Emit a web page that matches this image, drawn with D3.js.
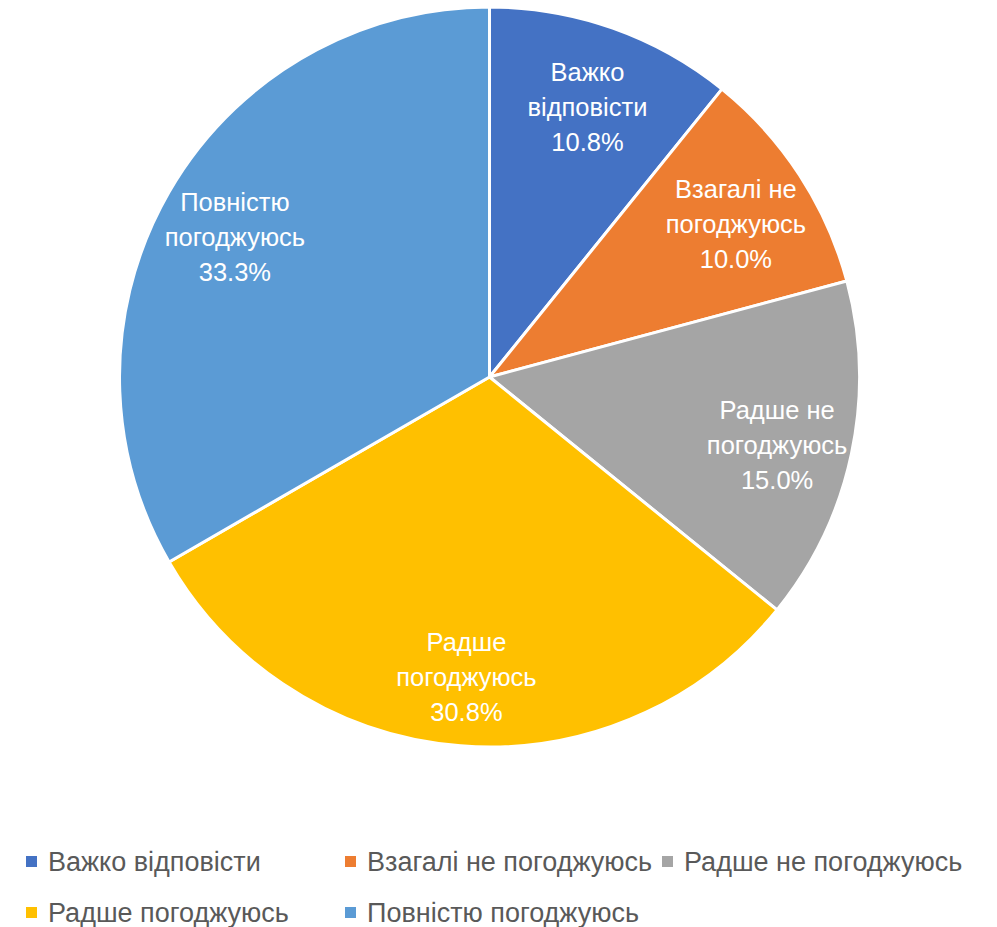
<!DOCTYPE html>
<html><head><meta charset="utf-8">
<script src="https://cdn.jsdelivr.net/npm/d3@7"></script>
<style>body{margin:0;background:#fff}</style>
</head><body>
<svg id="c" width="997" height="927"></svg>
<script>
const categories = ["Важко відповісти","Взагалі не погоджуюсь","Радше не погоджуюсь","Радше погоджуюсь","Повністю погоджуюсь"];
const values = [10.8, 10.0, 15.0, 30.8, 33.3];
const colors = ["#4472C4","#ED7D31","#A5A5A5","#FFC000","#5B9BD5"];

const svg = d3.select("#c");
const cx = 489.5, cy = 377, R = 370;
const g = svg.append("g").attr("transform",`translate(${cx},${cy})`);
const pie = d3.pie().sort(null).value(d=>d.v);
const data = pie(categories.map((c,i)=>({c, v:values[i], col:colors[i]})));
const arc = d3.arc().innerRadius(0).outerRadius(R);
const labelArc = d3.arc().innerRadius(294).outerRadius(294);

g.selectAll("path").data(data).join("path")
  .attr("d", arc).attr("fill", d=>d.data.col)
  .attr("stroke","#fff").attr("stroke-width",3).attr("stroke-linejoin","round");

const fmt = d3.format(".1f");
const lbl = g.selectAll("text.l").data(data).join("text").attr("class","l")
  .attr("transform", d=>{const [x,y]=labelArc.centroid(d); return `translate(${x},${y+7})`;})
  .attr("text-anchor","middle")
  .attr("font-family","'Liberation Sans', Arial, sans-serif")
  .attr("font-size",25.5).attr("fill","#fff");
lbl.each(function(d){
  const words = d.data.c.split(" ");
  const last = words.pop();
  const lines = [words.join(" "), last, fmt(d.data.v)+"%"];
  const t = d3.select(this);
  lines.forEach((s,i)=>{
    t.append("tspan").attr("x",0).attr("y",(i-1)*35).attr("dy","0.35em").text(s);
  });
});

// legend
const legX = [26, 345, 662];
const legRows = [862, 913];
const leg = svg.append("g");
categories.forEach((c,i)=>{
  const col = i%3, row = Math.floor(i/3);
  const x = legX[col], y = legRows[row];
  leg.append("rect").attr("x",x).attr("y",y-6).attr("width",11).attr("height",11).attr("fill",colors[i]);
  leg.append("text").attr("x",x+22).attr("y",y).attr("dy","0.35em")
    .attr("font-family","'Liberation Sans', Arial, sans-serif")
    .attr("font-size",27).attr("fill","#595959").text(c);
});
</script>
</body></html>
